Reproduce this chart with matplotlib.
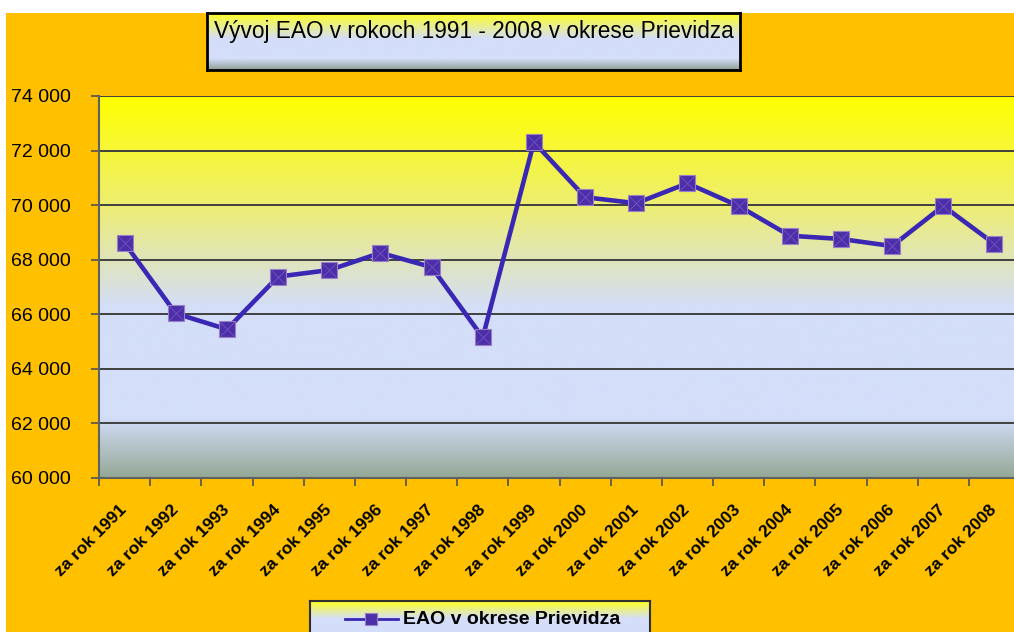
import matplotlib.pyplot as plt
import numpy as np
from matplotlib.colors import LinearSegmentedColormap
from matplotlib.patches import Rectangle

years = ['za rok 1991', 'za rok 1992', 'za rok 1993', 'za rok 1994', 'za rok 1995',
         'za rok 1996', 'za rok 1997', 'za rok 1998', 'za rok 1999', 'za rok 2000',
         'za rok 2001', 'za rok 2002', 'za rok 2003', 'za rok 2004', 'za rok 2005',
         'za rok 2006', 'za rok 2007', 'za rok 2008']
eao = [68610, 66030, 65450, 67380, 67620, 68250, 67730, 65150, 72310,
       70290, 70070, 70800, 69970, 68880, 68760, 68500, 69970, 68580]
y_ticks = [60000, 62000, 64000, 66000, 68000, 70000, 72000, 74000]

title = 'Vývoj EAO v rokoch 1991 - 2008 v okrese Prievidza'
legend_label = 'EAO v okrese Prievidza'

plt.rcParams['font.family'] = ['Liberation Sans', 'DejaVu Sans']

W, H = 1014, 632
fig = plt.figure(figsize=(W / 100, H / 100), dpi=100, facecolor='white')

# orange chart area
fig.add_artist(Rectangle((6 / W, 0), 1, (H - 13) / H, transform=fig.transFigure,
                         facecolor='#FFC000', edgecolor='none', zorder=-10))

plot_cmap = LinearSegmentedColormap.from_list('plot', [
    (0.0, '#FFFF00'), (0.28, '#EEEE70'), (0.55, '#D4DEF8'),
    (0.84, '#D4DEFA'), (1.0, '#94A896')])
box_cmap = LinearSegmentedColormap.from_list('box', [
    (0.0, '#FFFF20'), (0.45, '#D4DEFA'), (0.8, '#D4DEFA'), (1.0, '#8E9E92')])
grad = np.linspace(0, 1, 256).reshape(-1, 1)

ax = fig.add_axes([99 / W, (H - 478) / H, 921 / W, 382 / H])
ax.imshow(grad, cmap=plot_cmap, aspect='auto', extent=[0, 1, 0, 1],
          transform=ax.transAxes, zorder=0)
ax.set_facecolor('none')

x = np.arange(len(years))
ax.plot(x, eao, color='#3A28B4', linewidth=3.3, zorder=3)
ax.plot(x, eao, linestyle='none', marker='s', markersize=12,
        markerfacecolor='#4A2FA8', markeredgecolor='#9A7FC8', markeredgewidth=0.8, zorder=4)
ax.plot(x, eao, linestyle='none', marker='x', markersize=10,
        color='#7A4FC0', markeredgewidth=0.6, zorder=5)

ax.set_xlim(-0.5, len(years) - 0.5)
ax.set_ylim(60000, 74000)
ax.set_yticks(y_ticks)
ax.set_yticklabels([f'{v:,}'.replace(',', ' ') for v in y_ticks], fontsize=14)
ax.set_xticks(np.arange(len(years) + 1) - 0.5, minor=False)
ax.set_xticklabels([])
ax.set_xticks(x, minor=True)
ax.set_xticklabels(years, minor=True, rotation=45, ha='right', va='center',
                   rotation_mode='anchor', fontsize=12.5, fontweight='bold')
ax.tick_params(axis='x', which='minor', length=0, pad=21)
ax.tick_params(axis='x', which='major', length=6, width=1.2, color='#505050')
ax.tick_params(axis='y', length=6, width=1.2, color='#505050', pad=14)

ax.grid(axis='y', color='#404040', linewidth=1.4, zorder=1)
for s in ['top', 'right']:
    ax.spines[s].set_visible(False)
for s in ['left', 'bottom']:
    ax.spines[s].set_color('#606060')
    ax.spines[s].set_linewidth(1.5)

# title box
tax = fig.add_axes([207 / W, (H - 70) / H, 533 / W, 57 / H])
tax.imshow(grad, cmap=box_cmap, aspect='auto', extent=[0, 1, 0, 1],
           transform=tax.transAxes)
tax.set_xticks([])
tax.set_yticks([])
for s in tax.spines.values():
    s.set_linewidth(2)
    s.set_color('black')
tax.text(0.5, 0.67, title, transform=tax.transAxes, ha='center', va='center',
         fontsize=16.3)

# legend box
lax = fig.add_axes([310 / W, -8 / H, 340 / W, 39 / H])
lax.imshow(grad, cmap=box_cmap, aspect='auto', extent=[0, 1, 0, 1],
           transform=lax.transAxes)
lax.set_xlim(0, 340)
lax.set_ylim(-8, 31)
lax.set_xticks([])
lax.set_yticks([])
for s in lax.spines.values():
    s.set_linewidth(1.5)
    s.set_color('#303030')
lax.plot([35, 88], [13, 13], color='#3A28B4', linewidth=2)
lax.plot([61], [13], marker='s', markersize=9, markerfacecolor='#4A2FA8',
         markeredgecolor='#9A7FC8', markeredgewidth=0.8)
lax.text(93, 12, legend_label, ha='left', va='center', fontsize=14, fontweight='bold')

fig.savefig('out.png', dpi=100, facecolor=fig.get_facecolor())
